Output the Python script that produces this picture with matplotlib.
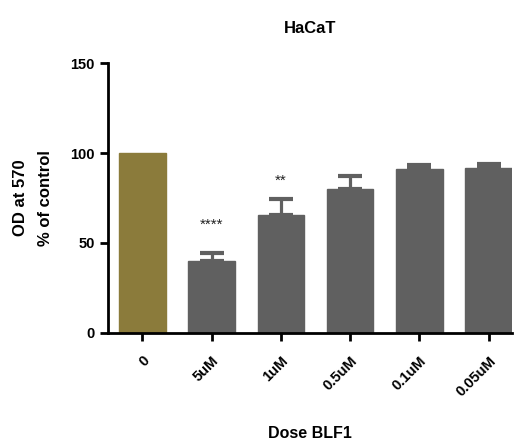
import numpy as np
import matplotlib
matplotlib.use("Agg")
from matplotlib import pyplot as plt

doses = ["0", "5uM", "1uM", "0.5uM", "0.1uM", "0.05uM"]
means = [100, 40, 65.5, 79.8, 90.9, 91.5]
errs = [0, 4.3, 9.0, 7.4, 2.4, 2.2]
stars = ["", "****", "**", "", "", ""]
star_y = [0, 60, 84.6, 0, 0, 0]

gold = "#8b7b3b"
grey = "#606060"
colors = [gold] + [grey] * 5

plt.rcParams['font.family'] = ['Liberation Sans', 'DejaVu Sans']

fig = plt.figure(figsize=(5.21, 4.41), dpi=100)
ax = fig.add_axes([0.207, 0.245, 0.776, 0.612])

x = np.arange(len(doses))
ax.bar(x, means, width=0.67, color=colors, edgecolor=colors, linewidth=1, zorder=2)
# only the upper half of the error bars is shown
ax.errorbar(x[1:], means[1:], yerr=[np.zeros(5), errs[1:]], fmt='none',
            ecolor=grey, elinewidth=2.3, capsize=8.3, capthick=3, zorder=3)

for xi, s, yy in zip(x, stars, star_y):
    if s:
        ax.text(xi, yy, s, ha='center', va='center', fontsize=11, color='#222222')

ax.set_xlim(-0.5, 5.34)
ax.set_ylim(0, 150)
ax.set_yticks([0, 50, 100, 150])
ax.set_xticks(x)
ax.set_xticklabels(doses, rotation=45, ha='right', rotation_mode='anchor',
                   fontsize=10.5, fontweight='bold')
for lab in ax.get_yticklabels():
    lab.set_fontweight('bold')
    lab.set_fontsize(10.5)

for side in ['top', 'right']:
    ax.spines[side].set_visible(False)
for side in ['left', 'bottom']:
    ax.spines[side].set_linewidth(2)
ax.tick_params(axis='both', width=2, length=6, direction='out')
ax.tick_params(axis='x', pad=9)

ax.set_ylabel("OD at 570\n% of control", fontsize=12, fontweight='bold',
              labelpad=12, linespacing=1.9)
ax.set_xlabel("Dose BLF1", fontsize=11.5, fontweight='bold', va='baseline')
ax.xaxis.set_label_coords(0.5, -0.39)
ax.set_title("HaCaT", fontsize=12, fontweight='bold', pad=22)

fig.savefig("out.png", dpi=100)
